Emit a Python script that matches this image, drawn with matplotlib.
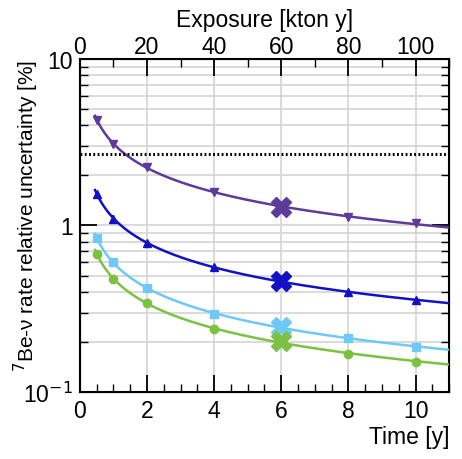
import numpy as np
import matplotlib
matplotlib.use("Agg")
import matplotlib.pyplot as plt
from matplotlib.ticker import FixedLocator, MultipleLocator, NullFormatter, LogLocator

plt.rcParams['font.family'] = ['Liberation Sans', 'DejaVu Sans']

# time points [y]
time = [0.5, 1, 2, 4, 8, 10]
time_x = 6  # highlighted point

# relative uncertainty [%]
purple_y = [4.33, 3.10, 2.23, 1.58, 1.13, 1.03]
purple_err = [0.20, 0.12, 0.07, 0.05, 0.02, 0.02]
purple_x = 1.29

blue_y = [1.55, 1.10, 0.79, 0.56, 0.40, 0.355]
blue_err = [0.07, 0.05, 0.02, 0.01, 0.01, 0.01]
blue_x = 0.463

light_y = [0.84, 0.60, 0.42, 0.296, 0.21, 0.187]
light_err = [0.02, 0.01, 0.01, 0.005, 0.004, 0.003]
light_x = 0.246

green_y = [0.676, 0.478, 0.34, 0.24, 0.17, 0.152]
green_err = [0.03, 0.02, 0.01, 0.005, 0.004, 0.003]
green_x = 0.202

threshold = 2.67

series = [
    (purple_y, purple_err, purple_x, '#5e3a9c', 'v'),
    (blue_y, blue_err, blue_x, '#1212c4', '^'),
    (light_y, light_err, light_x, '#6ec8f8', 's'),
    (green_y, green_err, green_x, '#7bc244', 'o'),
]

fig = plt.figure(figsize=(4.62, 4.60), dpi=100)
ax = fig.add_axes([0.173, 0.1457, 0.799, 0.7239])

tt = np.linspace(0.45, 11, 300)
for y, err, yx, col, mk in series:
    # power-law fit through the points (as in the original fit curve)
    b, a = np.polyfit(np.log(time + [time_x]), np.log(y + [yx]), 1)
    ax.plot(tt, np.exp(a) * tt ** b, color=col, lw=1.8, zorder=3)
    ax.errorbar(time, y, yerr=err, fmt=mk, color=col, ms=6, elinewidth=1.5,
                capsize=0, zorder=4)
    ax.plot([time_x], [yx], marker='X', color=col, ms=14, mec=col, zorder=5)

ax.axhline(threshold, color='black', lw=2.2, ls=(0, (0.6, 0.8)), zorder=3)

ax.set_yscale('log')
ax.set_xlim(0, 11)
ax.set_ylim(0.1, 10)

ax.yaxis.set_major_locator(FixedLocator([0.1, 1, 10]))
ax.set_yticklabels(['10$^{-1}$', '1', '10'])
ax.yaxis.set_minor_locator(LogLocator(base=10, subs=np.arange(2, 10)))
ax.yaxis.set_minor_formatter(NullFormatter())
ax.xaxis.set_major_locator(MultipleLocator(2))
ax.xaxis.set_minor_locator(MultipleLocator(0.5))

ax.grid(True, which='major', axis='x', color='#d4d4d4', lw=1.2)
ax.grid(True, which='both', axis='y', color='#d4d4d4', lw=1.2)
ax.set_axisbelow(True)

ax.tick_params(which='major', direction='in', length=12, width=1.3,
               right=True, labelsize=16.5, pad=5)
ax.tick_params(which='minor', direction='in', length=6, width=1.0, right=True)
for s in ax.spines.values():
    s.set_linewidth(1.5)

ax2 = ax.twiny()
ax2.set_xlim(0, 110)
ax2.xaxis.set_major_locator(MultipleLocator(20))
ax2.xaxis.set_minor_locator(MultipleLocator(10))
ax2.tick_params(which='major', direction='in', length=12, width=1.3,
                labelsize=16.5, pad=1)
ax2.tick_params(which='minor', direction='in', length=6, width=1.0)
ax2.set_xlabel('Exposure [kton y]', fontsize=16.5, labelpad=6)

ax.set_xlabel('Time [y]', fontsize=16.5, loc='right', labelpad=2)
ax.set_ylabel('$^{7}$Be-ν rate relative uncertainty [%]', fontsize=15,
              loc='top')
ax.yaxis.set_label_coords(-0.105, 1.0)

fig.savefig('out.png', dpi=100)
